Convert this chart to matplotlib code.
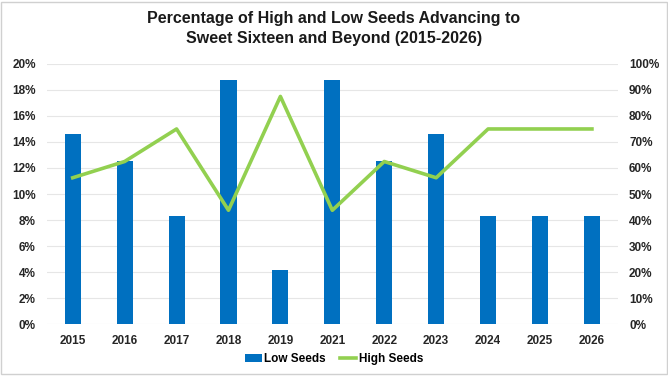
import numpy as np
import matplotlib.pyplot as plt
from matplotlib.ticker import PercentFormatter
from matplotlib.patches import Rectangle

# data
years = ['2015', '2016', '2017', '2018', '2019', '2021', '2022', '2023', '2024', '2025', '2026']
low_seeds = [14.58, 12.5, 8.33, 18.75, 4.17, 18.75, 12.5, 14.58, 8.33, 8.33, 8.33]
high_seeds = [56.25, 62.5, 75.0, 43.75, 87.5, 43.75, 62.5, 56.25, 75.0, 75.0, 75.0]

plt.rcParams['font.family'] = ['Liberation Sans', 'DejaVu Sans']

fig = plt.figure(figsize=(6.68, 3.76), dpi=100)
ax = fig.add_axes([0.070, 0.138, 0.855, 0.692])
ax2 = ax.twinx()

x = np.arange(len(years))
bars = ax.bar(x, low_seeds, width=0.31, color='#0070C0', label='Low Seeds', zorder=2)
line, = ax2.plot(x, high_seeds, color='#92D050', lw=2.6, label='High Seeds', zorder=3)

ax.set_ylim(0, 20)
ax.set_yticks(np.arange(0, 21, 2))
ax.yaxis.set_major_formatter(PercentFormatter(decimals=0))
ax2.set_ylim(0, 100)
ax2.set_yticks(np.arange(0, 101, 10))
ax2.yaxis.set_major_formatter(PercentFormatter(decimals=0))
ax.set_xlim(-0.5, len(years) - 0.5)
ax.set_xticks(x)
ax.set_xticklabels(years)

ax.grid(axis='y', color='#e6e6e6', lw=0.8, zorder=0)
ax.set_axisbelow(True)
for a in (ax, ax2):
    for s in a.spines.values():
        s.set_visible(False)
    a.tick_params(length=0, labelsize=8.5, colors='#262626')
    for lab in a.get_xticklabels() + a.get_yticklabels():
        lab.set_fontweight('bold')
ax.tick_params(axis='x', pad=8)
ax.tick_params(axis='y', pad=8)
ax2.tick_params(axis='y', pad=8)

fig.suptitle('Percentage of High and Low Seeds Advancing to\nSweet Sixteen and Beyond (2015-2026)',
             fontsize=11.5, fontweight='bold', color='#1a1a1a', y=0.97, linespacing=1.4)

leg = fig.legend(handles=[bars, line], loc='lower center', bbox_to_anchor=(0.5, 0.0),
                 ncol=2, frameon=False, handlelength=1.4, handletextpad=0.2,
                 columnspacing=1.2, prop={'weight': 'bold', 'size': 8.5})

fig.patches.append(Rectangle((0.002, 0.004), 0.996, 0.992, transform=fig.transFigure,
                             fill=False, edgecolor='#d0d0d0', lw=1))

plt.savefig('out.png', dpi=100)
